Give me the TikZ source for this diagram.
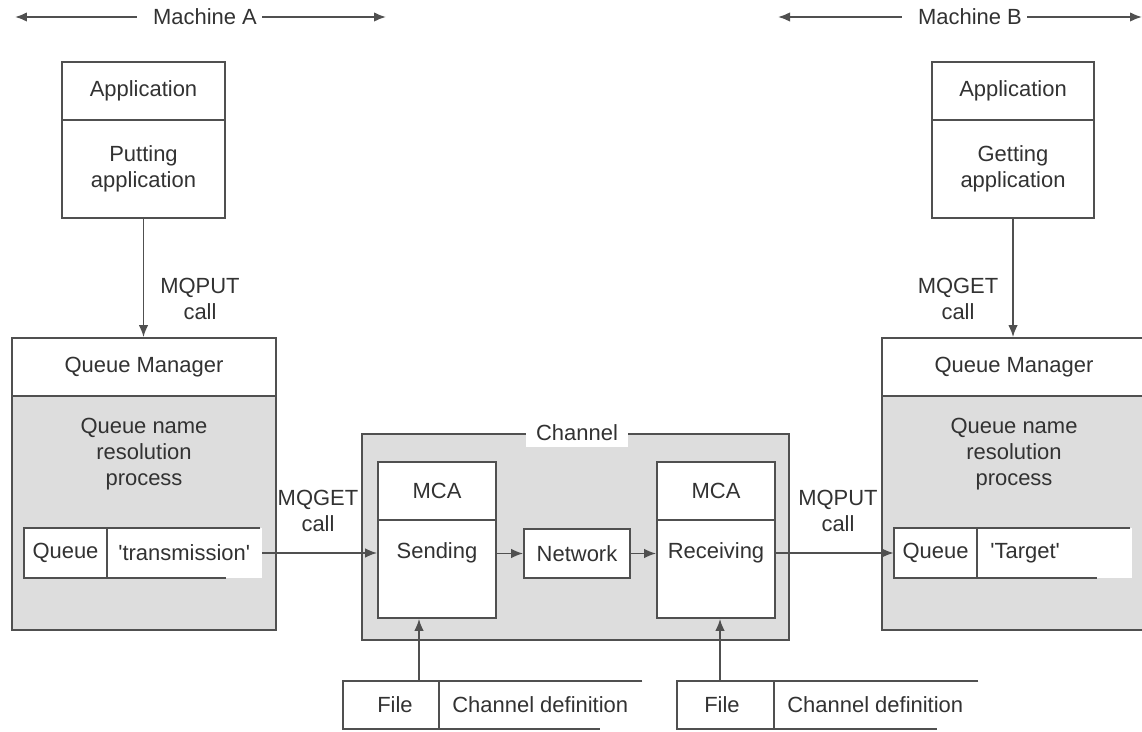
\documentclass[tikz,border=0pt]{standalone}
\usepackage{fontspec}
\setmainfont{Liberation Sans}
\usetikzlibrary{arrows.meta,calc}
\definecolor{linecol}{RGB}{80,80,80}
\definecolor{textcol}{RGB}{50,50,50}
\definecolor{shade}{RGB}{221,221,221}

\begin{document}
\begin{tikzpicture}[x=0.02cm,y=-0.02cm,>={Latex[length=2.4mm,width=1.9mm]},
  every node/.style={font=\fontsize{12.5}{15}\selectfont,text=textcol,align=center},
  wbox/.style={draw=linecol,line width=1pt,fill=white,inner sep=0pt},
  gbox/.style={draw=linecol,line width=1pt,fill=shade,inner sep=0pt},
  blank/.style={fill=white,inner sep=0pt},
  edge/.style={draw=linecol,line width=1pt},
  conn/.style={->,draw=linecol,line width=1pt}]
  \useasboundingbox (0,0) rectangle (1142,732);

  % machine ranges
  \node[inner xsep=0pt] (machA) at (205,17) {Machine A};
  \coordinate (mAl) at (15,17);
  \coordinate (mAr) at (386,17);
  \draw[conn] ([xshift=-0.32cm]machA.west) -- (mAl);
  \draw[conn] ([xshift=0.1cm]machA.east) -- (mAr);
  \node[inner xsep=0pt] (machB) at (970,17) {Machine B};
  \coordinate (mBl) at (778,17);
  \coordinate (mBr) at (1142,17);
  \draw[conn] ([xshift=-0.32cm]machB.west) -- (mBl);
  \draw[conn] ([xshift=0.1cm]machB.east) -- (mBr);

  % applications
  \node[wbox,minimum width=3.26cm,minimum height=1.16cm] (appAh) at (143.5,91) {Application};
  \node[wbox,minimum width=3.26cm,minimum height=1.96cm] (appA) at (143.5,169) {Putting\\application};
  \node[wbox,minimum width=3.24cm,minimum height=1.16cm] (appBh) at (1013,91) {Application};
  \node[wbox,minimum width=3.24cm,minimum height=1.96cm] (appB) at (1013,169) {Getting\\application};

  % queue managers
  \node[wbox,minimum width=5.28cm,minimum height=1.16cm] (qmAh) at (144,367) {Queue Manager};
  \node[gbox,minimum width=5.28cm,minimum height=4.68cm] (qmA) at (144,513) {};
  \node (resA) at (144,454) {Queue name\\resolution\\process};
  \node[wbox,minimum width=5.28cm,minimum height=1.16cm] (qmBh) at (1014,367) {Queue Manager};
  \node[gbox,minimum width=5.28cm,minimum height=4.68cm] (qmB) at (1014,513) {};
  \node (resB) at (1014,454) {Queue name\\resolution\\process};

  \draw[conn] (appA.south) -- (appA.south |- qmAh.north);
  \draw[conn] (appB.south) -- (appB.south |- qmBh.north);
  \node (putA) at (200,299) {MQPUT\\call};
  \node (getB) at (958,299) {MQGET\\call};

  % queues
  \node[blank,minimum width=4.76cm,minimum height=1cm] (qA) at (143,553) {};
  \draw[edge] ([xshift=-0.04cm]qA.north east) -- (qA.north west) -- (qA.south west) -- ++(202,0);
  \draw[edge] ([xshift=1.66cm]qA.north west) -- ([xshift=1.66cm]qA.south west);
  \node (qAl) at (65.5,553) {Queue};
  \node[anchor=west,inner sep=0pt] (qAn) at (118,553) {\textquotesingle transmission\textquotesingle};
  \node[blank,minimum width=4.76cm,minimum height=1cm] (qB) at (1013,553) {};
  \draw[edge] ([xshift=-0.04cm]qB.north east) -- (qB.north west) -- (qB.south west) -- ++(203,0);
  \draw[edge] ([xshift=1.66cm]qB.north west) -- ([xshift=1.66cm]qB.south west);
  \node (qBl) at (935.5,553) {Queue};
  \node[anchor=west,inner sep=0pt] (qBn) at (990,553) {\textquotesingle Target\textquotesingle};

  % channel
  \node[gbox,minimum width=8.54cm,minimum height=4.12cm] (chan) at (575.5,537) {};
  \node[blank,minimum width=2.06cm,minimum height=0.56cm] (chanl) at (577,433) {Channel};
  \node[wbox,minimum width=2.36cm,minimum height=1.16cm] (sendh) at (437,491) {MCA};
  \node[wbox,minimum width=2.36cm,minimum height=1.96cm] (send) at (437,569) {};
  \node (sendl) at (437,553) {Sending};
  \node[wbox,minimum width=2.12cm,minimum height=0.98cm] (net) at (577,553.5) {Network};
  \node[wbox,minimum width=2.36cm,minimum height=1.16cm] (recvh) at (716,491) {MCA};
  \node[wbox,minimum width=2.36cm,minimum height=1.96cm] (recv) at (716,569) {};
  \node (recvl) at (716,553) {Receiving};

  \draw[conn] (qA.east) -- (qA.east -| send.west);
  \draw[conn] (net.west -| send.east) -- (net.west);
  \draw[conn] (net.east) -- (net.east -| recv.west);
  \draw[conn] (qB.west -| recv.east) -- (qB.west);
  \node (getA) at (318,511) {MQGET\\call};
  \node (putB) at (838,511) {MQPUT\\call};

  % channel definition files
  \node[minimum width=5.98cm,minimum height=0.96cm,inner sep=0pt] (fA) at (492.5,705) {};
  \draw[edge] (fA.north east) -- (fA.north west) -- (fA.south west) -- ++(257,0);
  \draw[edge] ([xshift=1.92cm]fA.north west) -- ([xshift=1.92cm]fA.south west);
  \node (fAl) at (395,705) {File};
  \node[anchor=west,inner sep=0pt] (fAn) at (452,705) {Channel definition};
  \node[minimum width=6.02cm,minimum height=0.96cm,inner sep=0pt] (fB) at (827.5,705) {};
  \draw[edge] (fB.north east) -- (fB.north west) -- (fB.south west) -- ++(260,0);
  \draw[edge] ([xshift=1.94cm]fB.north west) -- ([xshift=1.94cm]fB.south west);
  \node (fBl) at (722,705) {File};
  \node[anchor=west,inner sep=0pt] (fBn) at (787,705) {Channel definition};

  \coordinate (fAin) at (419,681);
  \coordinate (fBin) at (720,681);
  \draw[conn] (fAin) -- (fAin |- send.south);
  \draw[conn] (fBin) -- (fBin |- recv.south);
\end{tikzpicture}
\end{document}
